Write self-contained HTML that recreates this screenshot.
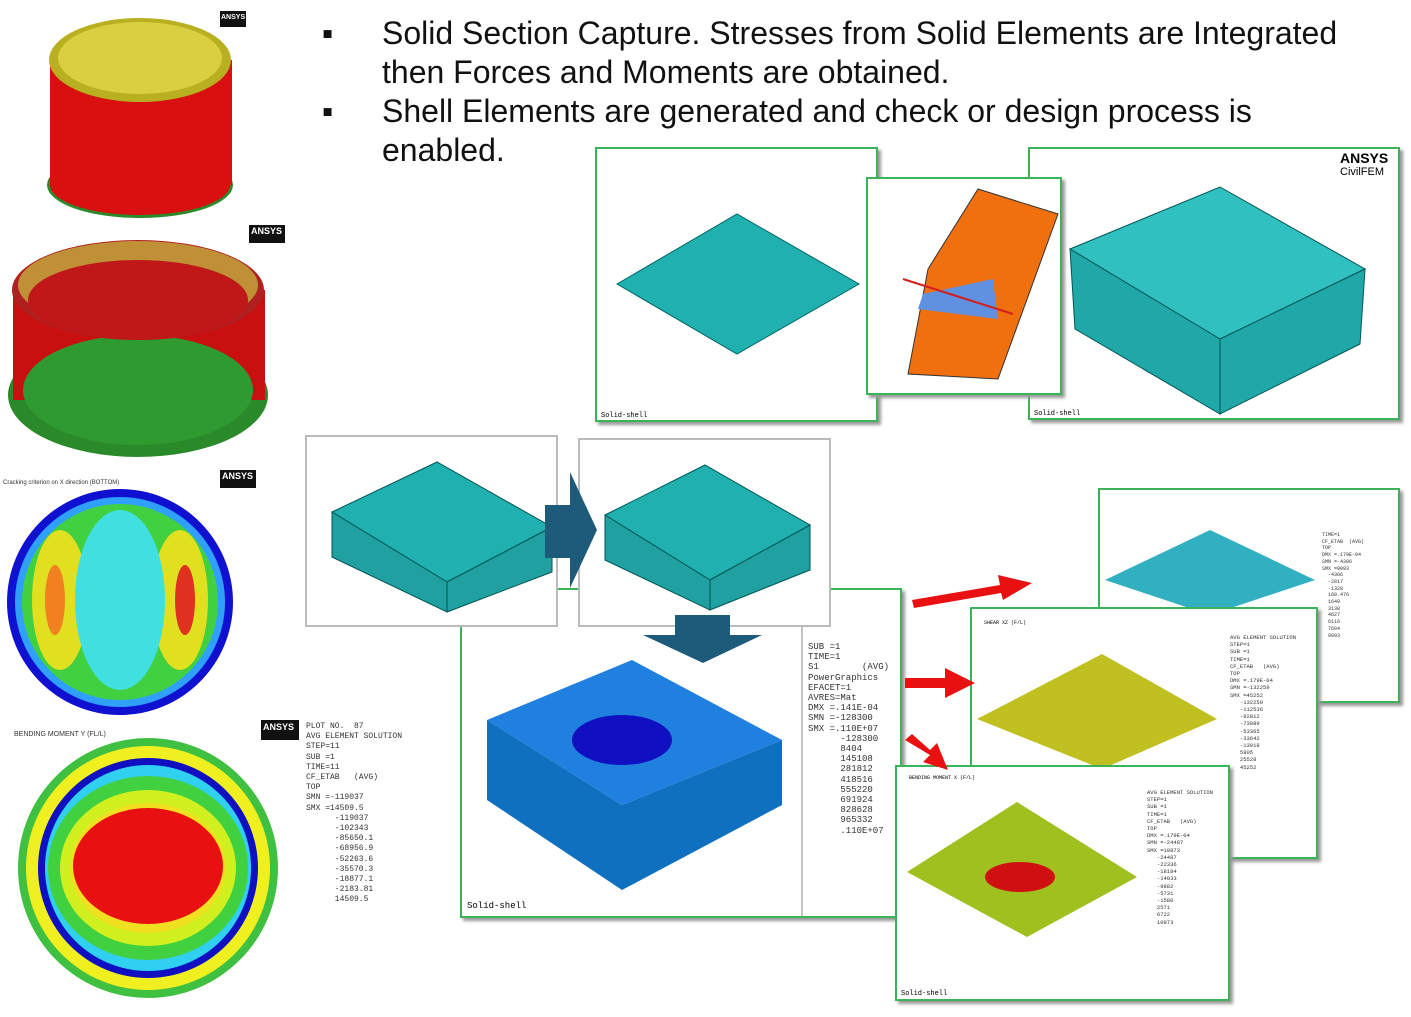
<!DOCTYPE html>
<html><head><meta charset="utf-8"><style>
body{margin:0;background:#fff;width:1411px;height:1017px;overflow:hidden;position:relative;font-family:"Liberation Sans",sans-serif}
.t{position:absolute;left:322px;font-size:32px;color:#111;line-height:38.5px}
.p{position:absolute;background:#fff;border:2px solid #3cb35a;box-shadow:3px 3px 3px #999;box-sizing:border-box}
.m{font-family:"Liberation Mono",monospace;font-size:8px;color:#333;position:absolute;white-space:pre;line-height:10.2px}
</style></head><body>
<div class="t" style="top:14px"><span style="position:absolute;left:0">▪</span><div style="margin-left:60px">Solid Section Capture. Stresses from Solid Elements are Integrated<br>then Forces and Moments are obtained.<br></div></div>
<div class="t" style="top:92px"><span style="position:absolute;left:0">▪</span><div style="margin-left:60px">Shell Elements are generated and check or design process is<br>enabled.</div></div>

<svg width="1411" height="1017" style="position:absolute;left:0;top:0">
<ellipse cx="140" cy="185" rx="93" ry="33" fill="#2a8a2a"/>
<rect x="50" y="60" width="182" height="125" fill="#d81010"/>
<ellipse cx="140" cy="185" rx="90" ry="30" fill="#d81010"/>
<ellipse cx="140" cy="60" rx="91" ry="42" fill="#b8b020"/>
<ellipse cx="140" cy="58" rx="82" ry="36" fill="#d8d040"/>
<ellipse cx="138" cy="395" rx="130" ry="62" fill="#2a8a2a"/>
<rect x="13" y="290" width="252" height="110" fill="#c81010"/>
<ellipse cx="138" cy="390" rx="115" ry="55" fill="#2f9a2f"/>
<ellipse cx="138" cy="290" rx="126" ry="50" fill="#b02020"/>
<ellipse cx="138" cy="285" rx="120" ry="44" fill="#c8c040" opacity=".7"/>
<ellipse cx="138" cy="300" rx="110" ry="40" fill="#c01818"/>
<text x="3" y="484" font-size="6" fill="#333">Cracking criterion on X direction (BOTTOM)</text>
<circle cx="120" cy="602" r="113" fill="#1010d0"/>
<circle cx="120" cy="602" r="105" fill="#30a0ff"/>
<circle cx="120" cy="602" r="98" fill="#40d040"/>
<ellipse cx="60" cy="600" rx="28" ry="70" fill="#e0e020"/>
<ellipse cx="180" cy="600" rx="28" ry="70" fill="#e0e020"/>
<ellipse cx="185" cy="600" rx="10" ry="35" fill="#e03020"/>
<ellipse cx="55" cy="600" rx="10" ry="35" fill="#f08020"/>
<ellipse cx="120" cy="600" rx="45" ry="90" fill="#40e0e0"/>
<text x="14" y="736" font-size="7" fill="#333">BENDING MOMENT Y (FL/L)</text>
<circle cx="148" cy="868" r="130" fill="#40c040"/>
<circle cx="148" cy="868" r="122" fill="#f0f020"/>
<circle cx="148" cy="868" r="110" fill="#1010c0"/>
<circle cx="148" cy="868" r="103" fill="#30d0f0"/>
<ellipse cx="148" cy="868" rx="100" ry="92" fill="#40d040"/>
<ellipse cx="148" cy="868" rx="88" ry="78" fill="#d0f020"/>
<ellipse cx="148" cy="868" rx="78" ry="65" fill="#f0e020"/>
<ellipse cx="148" cy="866" rx="75" ry="58" fill="#e81010"/>
<g font-size="9" font-weight="bold">
<rect x="220" y="11" width="26" height="16" fill="#111"/><text x="221" y="19" fill="#fff" font-size="7">ANSYS</text>
<rect x="249" y="225" width="36" height="18" fill="#111"/><text x="251" y="234" fill="#fff">ANSYS</text>
<rect x="220" y="470" width="36" height="18" fill="#111"/><text x="222" y="479" fill="#fff">ANSYS</text>
<rect x="261" y="720" width="38" height="20" fill="#111"/><text x="263" y="730" fill="#fff">ANSYS</text>
</g>
</svg>
<div class="m" style="left:306px;top:722px">PLOT NO.  87
AVG ELEMENT SOLUTION
STEP=11
SUB =1
TIME=11
CF_ETAB   (AVG)
TOP
SMN =-119037
SMX =14509.5
      -119037
      -102343
      -85650.1
      -68956.9
      -52263.6
      -35570.3
      -18877.1
      -2183.81
      14509.5</div>

<div class="p" style="left:595px;top:147px;width:283px;height:275px"><svg width="279" height="271"><polygon points="20,135 140,65 262,135 140,205" fill="#20b0b0" stroke="#066" stroke-width="1"/><text x="4" y="268" font-size="7" font-family="Liberation Mono">Solid-shell</text></svg></div>
<div class="p" style="left:1028px;top:147px;width:372px;height:273px"><svg width="368" height="269"><polygon points="40,100 190,38 335,120 190,190" fill="#30c0c0" stroke="#055"/><polygon points="40,100 190,190 190,265 45,180" fill="#20a8a8" stroke="#055"/><polygon points="190,190 335,120 330,195 190,265" fill="#20a8a8" stroke="#055"/><text x="310" y="14" font-size="14" font-weight="bold">ANSYS</text><text x="310" y="26" font-size="11">CivilFEM</text><text x="4" y="266" font-size="7" font-family="Liberation Mono">Solid-shell</text></svg></div>
<div class="p" style="left:866px;top:177px;width:196px;height:218px"><svg width="192" height="214"><path d="M110,10 L190,35 L130,200 L40,195 L60,90 Z" fill="#f07010" stroke="#333"/><polygon points="55,115 125,100 130,140 50,130" fill="#6090e0"/><line x1="35" y1="100" x2="145" y2="135" stroke="#d02020" stroke-width="2"/></svg></div>
<div class="p" style="left:460px;top:588px;width:442px;height:330px"><svg width="438" height="326"><polygon points="25,130 170,70 320,150 160,215" fill="#2080e0"/><polygon points="25,130 160,215 160,300 25,210" fill="#1070c0"/><polygon points="160,215 320,150 320,215 160,300" fill="#1070c0"/><ellipse cx="160" cy="150" rx="50" ry="25" fill="#1010c0"/><text x="5" y="318" font-size="9" font-family="Liberation Mono">Solid-shell</text><line x1="340" y1="0" x2="340" y2="326" stroke="#888"/></svg></div>
<div class="m" style="left:808px;top:642px;font-size:9px;line-height:10.2px">SUB =1
TIME=1
S1        (AVG)
PowerGraphics
EFACET=1
AVRES=Mat
DMX =.141E-04
SMN =-128300
SMX =.110E+07
      -128300
      8404
      145108
      281812
      418516
      555220
      691924
      828628
      965332
      .110E+07</div>
<div class="p" style="left:305px;top:435px;width:253px;height:192px;border-color:#bbb;box-shadow:none"><svg width="249" height="188"><polygon points="25,75 130,25 245,90 140,145" fill="#20b0b0" stroke="#055"/><polygon points="25,75 140,145 140,175 25,120" fill="#20a0a0" stroke="#055"/><polygon points="140,145 245,90 245,135 140,175" fill="#20a0a0" stroke="#055"/></svg></div>
<div class="p" style="left:578px;top:438px;width:253px;height:189px;border-color:#bbb;box-shadow:none"><svg width="249" height="185"><polygon points="25,75 125,25 230,85 130,140" fill="#20b0b0" stroke="#055"/><polygon points="25,75 130,140 130,170 25,120" fill="#20a0a0" stroke="#055"/><polygon points="130,140 230,85 230,130 130,170" fill="#20a0a0" stroke="#055"/></svg></div>
<div class="p" style="left:1098px;top:488px;width:302px;height:215px"><svg width="298" height="211"><polygon points="5,90 110,40 215,90 110,125" fill="#30b0c0"/></svg><div class="m" style="left:222px;top:42px;font-size:5px;line-height:6.7px">TIME=1
CF_ETAB  (AVG)
TOP
DMX =.179E-04
SMN =-4306
SMX =9093
  -4306
  -2817
  -1328
  160.476
  1649
  3138
  4627
  6116
  7604
  9093</div></div>
<div class="p" style="left:970px;top:607px;width:348px;height:252px"><svg width="344" height="248"><polygon points="5,110 130,45 245,110 130,160" fill="#c0c020"/><text x="12" y="15" font-size="5" font-family="Liberation Mono">SHEAR XZ (F/L)</text></svg><div class="m" style="left:258px;top:25px;font-size:5.5px;line-height:7.2px">AVG ELEMENT SOLUTION
STEP=1
SUB =1
TIME=1
CF_ETAB   (AVG)
TOP
DMX =.179E-04
SMN =-132259
SMX =45252
   -132259
   -112536
   -92812
   -73089
   -53365
   -33642
   -13918
   5805
   25528
   45252</div></div>
<div class="p" style="left:895px;top:765px;width:335px;height:236px"><svg width="331" height="232"><polygon points="10,105 120,35 240,110 130,170" fill="#a0c020"/><ellipse cx="123" cy="110" rx="35" ry="15" fill="#d01010"/><text x="12" y="12" font-size="5" font-family="Liberation Mono">BENDING MOMENT X (F/L)</text><text x="4" y="228" font-size="7" font-family="Liberation Mono">Solid-shell</text></svg><div class="m" style="left:250px;top:22px;font-size:5.5px;line-height:7.2px">AVG ELEMENT SOLUTION
STEP=1
SUB =1
TIME=1
CF_ETAB   (AVG)
TOP
DMX =.179E-04
SMN =-24487
SMX =10873
   -24487
   -22336
   -18184
   -14033
   -9882
   -5731
   -1580
   2571
   6722
   10873</div></div>
<svg width="1411" height="1017" style="position:absolute;left:0;top:0;pointer-events:none">
<polygon points="545,505 570,505 570,472 597,530 570,588 570,558 545,558" fill="#1e5a7a"/>
<polygon points="675,615 730,615 730,635 762,635 703,663 643,635 675,635" fill="#1e5a7a"/>
<polygon points="912,600 1000,585 998,575 1032,583 1003,600 1001,593 914,608" fill="#e81010"/>
<polygon points="905,678 945,678 945,668 975,683 945,698 945,688 905,688" fill="#e81010"/>
<polygon points="905,740 912,734 930,750 937,743 948,770 923,762 930,755" fill="#e81010"/>
</svg>
</body></html>
